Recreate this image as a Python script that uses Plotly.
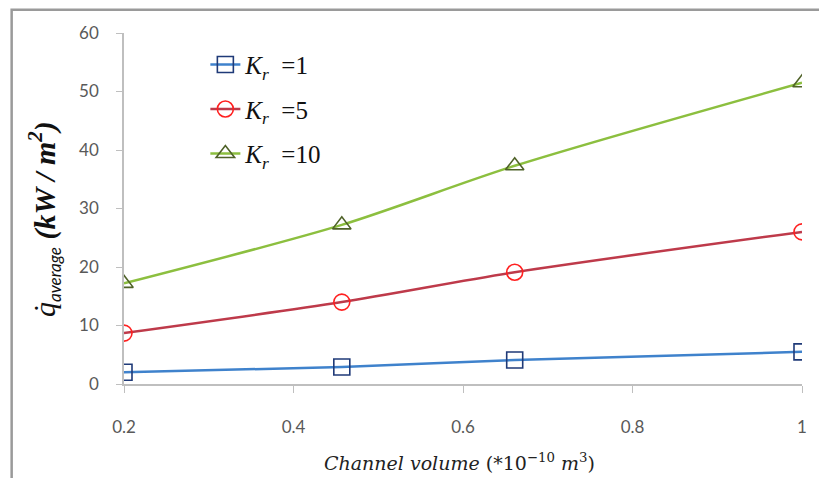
import plotly.graph_objects as go

volume = [0.2, 0.457, 0.661, 1.0]
q_kr1 = [2.0, 2.9, 4.1, 5.5]
q_kr5 = [8.7, 14.0, 19.1, 26.0]
q_kr10 = [17.2, 27.2, 37.3, 51.5]

series_names = ["<i>K<sub>r</sub></i>  =1", "<i>K<sub>r</sub></i>  =5", "<i>K<sub>r</sub></i>  =10"]
x_ticks = [0.2, 0.4, 0.6, 0.8, 1]
x_tick_text = ["0.2", "0.4", "0.6", "0.8", "1"]
y_ticks = [0, 10, 20, 30, 40, 50, 60]

fig = go.Figure()
styles = [
    (q_kr1, "#3F82CC", "square-open", "#1F3A78"),
    (q_kr5, "#BE3A4A", "circle-open", "#FF2020"),
    (q_kr10, "#8CBF3F", "triangle-up-open", "#4F6228"),
]
for i, (name, (vals, lc, sym, mc)) in enumerate(zip(series_names, styles)):
    fig.add_trace(go.Scatter(
        x=volume, y=vals, name=name, mode="lines+markers", legendgroup=f"g{i}",
        line=dict(color=lc, width=2.5, shape="spline", smoothing=0.8),
        marker=dict(symbol=sym, size=16, color=mc, line=dict(width=1.6, color=mc)),
    ))

axis_font = dict(family="Lato, Open Sans, sans-serif", size=17, color="#595959")
fig.update_layout(
    width=811, height=470,
    margin=dict(l=116, r=13, t=25, b=94),
    paper_bgcolor="white", plot_bgcolor="white",
    showlegend=True,
    legend=dict(
        x=0.12, y=0.975, xanchor="left", yanchor="top",
        bgcolor="rgba(0,0,0,0)", tracegroupgap=9,
        font=dict(family="Liberation Serif, Times New Roman, serif", size=25, color="#111111"),
    ),
    xaxis=dict(
        range=[0.2, 1.0], tickvals=x_ticks, ticktext=x_tick_text,
        showgrid=False, zeroline=False, showline=True, linecolor="#BFBFBF", linewidth=1.5,
        ticks="outside", ticklen=7, tickcolor="#BFBFBF", tickfont=axis_font,
        ticklabelstandoff=20,
    ),
    yaxis=dict(
        range=[0, 60], tickvals=y_ticks,
        showgrid=False, zeroline=False, showline=True, linecolor="#BFBFBF", linewidth=1.5,
        ticks="outside", ticklen=6, tickcolor="#BFBFBF", tickfont=axis_font,
        ticklabelstandoff=14,
    ),
    shapes=[dict(
        type="rect", xref="paper", yref="paper",
        x0=-0.1657, x1=1.3, y0=-0.6, y1=1.066,
        line=dict(color="#9A9A9A", width=2.5), fillcolor="rgba(0,0,0,0)", layer="below",
    )],
    annotations=[
        dict(
            text="<i>Channel volume</i> (*10<sup>−10</sup> <i>m</i><sup>3</sup>)",
            xref="paper", yref="paper", x=0.495, y=-0.222, xanchor="center", yanchor="middle",
            showarrow=False,
            font=dict(family="DejaVu Serif, serif", size=19, color="#222222"),
        ),
        dict(
            text="<i>q̇</i><sub><i><span style='font-family:Lato;font-size:17px'>average</span></i></sub><b><i> (kW / m<sup>2</sup>)</i></b>",
            xref="paper", yref="paper", x=-0.118, y=0.47, xanchor="center", yanchor="middle",
            textangle=-90, showarrow=False,
            font=dict(family="Liberation Serif, Times New Roman, serif", size=30, color="#111111"),
        ),
    ],
)

fig.write_html("out.html")
